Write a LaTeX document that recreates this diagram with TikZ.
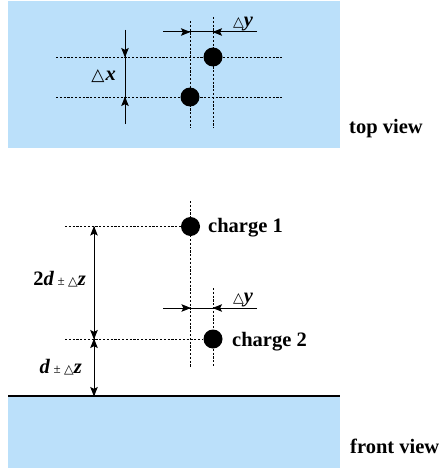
\documentclass[tikz,border=0pt]{standalone}
\usepackage{fontspec}
\setmainfont{Liberation Serif}
\newfontfamily\symfont{DejaVu Sans}
\usetikzlibrary{arrows.meta}
\newcommand{\tri}[1][12]{{\symfont\fontsize{#1}{#1}\selectfont △}}
\newcommand{\pmsm}{{\fontsize{13}{13}\selectfont\mdseries ±}}
\newcommand{\bi}[1]{\textbf{\textit{#1}}}
\definecolor{skyb}{RGB}{187,224,250}
\tikzset{
  x=1pt,y=-1pt,
  guide/.style={line width=0.75pt, dash pattern=on 2.2pt off 1.6pt},
  dim/.style={line width=1pt},
  tip/.style={-{Stealth[length=9.5pt,width=7.5pt,inset=1.8pt]}, line width=1pt, shorten >=-0.5pt},
  dot/.style={circle, fill=black, inner sep=0pt, minimum size=19pt},
  lbl/.style={font=\fontsize{20.5}{24}\selectfont\bfseries, inner sep=0pt},
}
\begin{document}
\begin{tikzpicture}
\useasboundingbox (0,0) rectangle (440,468);
% backgrounds
\fill[skyb] (8,1) rectangle (340,148);
\fill[skyb] (8,396) rectangle (340,468);
\draw[line width=1.6pt] (8,396) -- (340,396);

% ---------- top view ----------
\coordinate (hA1) at (56,57);  \coordinate (hA2) at (283,57);
\coordinate (hB1) at (56,97);  \coordinate (hB2) at (283,97);
\coordinate (vA1) at (190,21); \coordinate (vA2) at (190,128);
\coordinate (vB1) at (213,17); \coordinate (vB2) at (213,128);
\draw[guide] (hA1) -- (hA2);
\draw[guide] (hB1) -- (hB2);
\draw[guide] (vA1) -- (vA2);
\draw[guide] (vB1) -- (vB2);
\node[dot] (t1) at (213,57) {};
\node[dot] (t2) at (190,97) {};

% delta x
\coordinate (dxT) at (125,30); \coordinate (dxA) at (125,57);
\coordinate (dxB) at (125,97); \coordinate (dxE) at (125,124);
\draw[dim] (dxT) -- (dxE);
\draw[tip] (dxT) -- (dxA);
\draw[tip] (dxE) -- (dxB);
\node[lbl, anchor=base east] (dxl) at (116,81) {\tri[17]\kern1pt\bi{x}};

% delta y (top)
\coordinate (dyL) at (163,32); \coordinate (dyA) at (190,32);
\coordinate (dyB) at (213,32); \coordinate (dyR) at (257,32);
\draw[dim] (dyL) -- (dyR);
\draw[tip] (dyL) -- (dyA);
\draw[tip] (dyR) -- (dyB);
\node[lbl, anchor=base west] (dyl) at (233,27) {\tri[14]\bi{y}};

\node[lbl, anchor=base west] (tv) at (349,133) {top view};

% ---------- front view ----------
\node[dot] (c1) at (190.5,226.5) {};
\node[dot] (c2) at (213,339) {};
\coordinate (f1a) at (190.5,201); \coordinate (f1b) at (190.5,367);
\coordinate (f2a) at (213,288);   \coordinate (f2b) at (213,367);
\coordinate (g1) at (65,226.5);   \coordinate (g2) at (65,339);
\draw[guide] (f1a) -- (f1b);
\draw[guide] (f2a) -- (f2b);
\draw[guide] (g1) -- (c1);
\draw[guide] (g2) -- (c2);
\node[lbl, anchor=base west] (c1l) at (208,232) {charge 1};
\node[lbl, anchor=base west] (c2l) at (232,346) {charge 2};

% vertical dimensions
\coordinate (za) at (94,226.5); \coordinate (zm) at (94,339);
\coordinate (zg) at (94,396);
\draw[tip] (zm) -- (za);
\draw[tip] (za) -- (zm);
\draw[tip] (zm) -- (zg);
\draw[tip] (zg) -- (zm);
\node[lbl, anchor=base east] (z2l) at (86,285) {2\bi{d}\,\pmsm\,\tri[12.5]\bi{z}};
\node[lbl, anchor=base east] (z1l) at (82,373) {\bi{d}\,\pmsm\,\tri[12.5]\bi{z}};

% delta y (front)
\coordinate (fyL) at (163,308); \coordinate (fyA) at (190.5,308);
\coordinate (fyB) at (213,308); \coordinate (fyR) at (257,308);
\draw[dim] (fyL) -- (fyR);
\draw[tip] (fyL) -- (fyA);
\draw[tip] (fyR) -- (fyB);
\node[lbl, anchor=base west] (fyl) at (233,302) {\tri[14]\bi{y}};

\node[lbl, anchor=base west] (fv) at (350,453) {front view};
\end{tikzpicture}
\end{document}
